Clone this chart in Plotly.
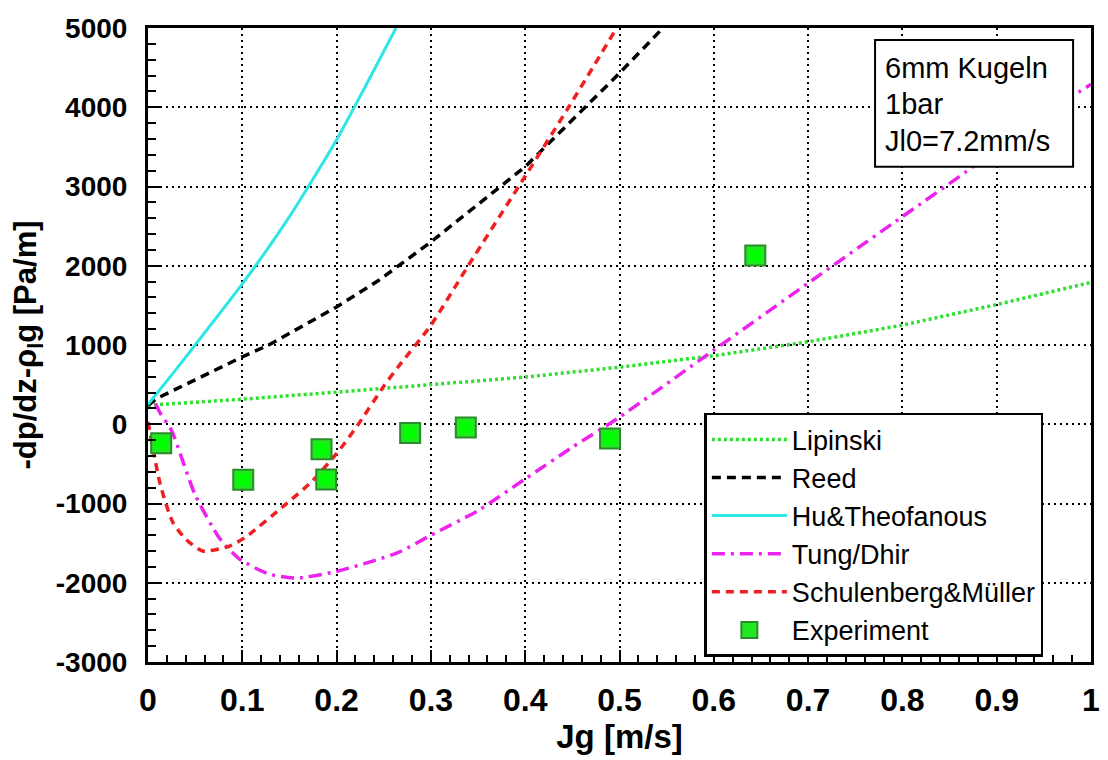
import plotly.graph_objects as go

# Model curves: superficial gas velocity Jg [m/s] vs. -dp/dz - rho_l*g [Pa/m]
lipinski_x = [0.0, 0.1, 0.2, 0.265, 0.3, 0.4, 0.5, 0.6, 0.7, 0.8, 0.9, 1.0]
lipinski_y = [240, 316, 405, 470, 495, 595, 720, 865, 1040, 1250, 1510, 1790]

reed_x = [0.0, 0.01, 0.05, 0.1, 0.128, 0.2, 0.244, 0.3, 0.4, 0.5, 0.546]
reed_y = [240, 330, 560, 850, 1000, 1480, 1810, 2300, 3250, 4430, 5000]

hu_x = [0.0, 0.025, 0.05, 0.1, 0.15, 0.2, 0.263]
hu_y = [250, 620, 1000, 1770, 2620, 3590, 5000]

tung_x = [0.008, 0.013, 0.025, 0.05, 0.076, 0.097, 0.128, 0.157, 0.199, 0.265,
          0.3, 0.35, 0.4, 0.45, 0.5, 0.6, 0.7, 0.8, 0.868, 0.93, 1.0]
tung_y = [260, 140, -80, -890, -1440, -1700, -1890, -1940, -1860, -1620,
          -1400, -1090, -690, -290, 90, 935, 1780, 2620, 3190, 3750, 4290]

schulenberg_x = [0.0, 0.013, 0.026, 0.04, 0.058, 0.086, 0.104, 0.146, 0.174, 0.202,
                 0.223, 0.25, 0.265, 0.3, 0.339, 0.4, 0.446, 0.497]
schulenberg_y = [30, -760, -1230, -1450, -1600, -1540, -1420, -1010, -720, -340,
                 0, 480, 720, 1250, 1990, 3130, 4000, 5000]

# Measured points
exp_x = [0.014, 0.101, 0.184, 0.189, 0.278, 0.337, 0.49, 0.644]
exp_y = [-240, -700, -316, -696, -110, -40, -180, 2130]

x_ticks = [0, 0.1, 0.2, 0.3, 0.4, 0.5, 0.6, 0.7, 0.8, 0.9, 1]
x_labels = ["0", "0.1", "0.2", "0.3", "0.4", "0.5", "0.6", "0.7", "0.8", "0.9", "1"]
y_ticks = [-3000, -2000, -1000, 0, 1000, 2000, 3000, 4000, 5000]
y_labels = ["-3000", "-2000", "-1000", "0", "1000", "2000", "3000", "4000", "5000"]

info_lines = ["6mm Kugeln", "1bar", "Jl0=7.2mm/s"]

SANS = "Liberation Sans, Arial, sans-serif"
NARROW = "Liberation Sans Narrow, Arial Narrow, Liberation Sans, Arial, sans-serif"

fig = go.Figure()

fig.add_trace(go.Scatter(x=lipinski_x, y=lipinski_y, mode="lines", name="Lipinski",
                         line=dict(color="#2ee02e", width=3.5, dash="3px,3px")))
fig.add_trace(go.Scatter(x=reed_x, y=reed_y, mode="lines", name="Reed",
                         line=dict(color="black", width=3.5, dash="9px,6px")))
fig.add_trace(go.Scatter(x=hu_x, y=hu_y, mode="lines", name="Hu&Theofanous",
                         line=dict(color="#2ee6e6", width=3, shape="spline",
                                   smoothing=0.6)))
fig.add_trace(go.Scatter(x=tung_x, y=tung_y, mode="lines", name="Tung/Dhir",
                         line=dict(color="#ee22ee", width=3.5, dash="13px,6px,3px,6px",
                                   shape="spline", smoothing=0.6)))
fig.add_trace(go.Scatter(x=schulenberg_x, y=schulenberg_y, mode="lines",
                         name="Schulenberg&Müller",
                         line=dict(color="#ee2020", width=3.5, dash="8px,6px",
                                   shape="spline", smoothing=0.6)))
fig.add_trace(go.Scatter(x=exp_x, y=exp_y, mode="markers", name="Experiment",
                         marker=dict(symbol="square", size=20, color="#22e822",
                                     line=dict(color="#2b8c2b", width=2))))
# brighter face on the squares for a raised look
fig.add_trace(go.Scatter(x=exp_x, y=exp_y, mode="markers", showlegend=False,
                         hoverinfo="skip",
                         marker=dict(symbol="square", size=12, color="#00ff00",
                                     line=dict(width=0))))

axis_common = dict(
    showline=True, linecolor="black", linewidth=3, mirror=True,
    showgrid=True, gridcolor="black", gridwidth=2, griddash="2px,4px",
    zeroline=False, ticks="inside", tickcolor="black", tickwidth=2,
)

fig.update_xaxes(
    range=[0, 1], tickvals=x_ticks, ticktext=x_labels, ticklen=12,
    tickfont=dict(family=NARROW, size=32, color="black", weight="bold"),
    ticklabelstandoff=8,
    minor=dict(ticks="inside", dtick=0.02, ticklen=7, tickwidth=1.5,
               tickcolor="black", showgrid=False),
    title=dict(text="Jg [m/s]", standoff=6,
               font=dict(family=NARROW, size=33, color="black", weight="bold")),
    **axis_common,
)
fig.update_yaxes(
    range=[-3000, 5000], tickvals=y_ticks, ticktext=y_labels, ticklen=14,
    tickfont=dict(family=SANS, size=28, color="black", weight="bold"),
    ticklabelstandoff=12,
    minor=dict(ticks="inside", dtick=200, ticklen=8, tickwidth=1.5,
               tickcolor="black", showgrid=False),
    title=dict(text="-dp/dz-ρ<sub>l</sub>g [Pa/m]", standoff=10,
               font=dict(family=SANS, size=31, color="black", weight="bold")),
    **axis_common,
)

# Info box in the upper right corner
fig.add_shape(type="rect", xref="paper", yref="paper",
              x0=0.771, x1=0.981, y0=0.781, y1=0.981,
              line=dict(color="black", width=2), fillcolor="white", layer="above")
for i, line in enumerate(info_lines):
    fig.add_annotation(xref="paper", yref="paper", x=0.779, y=0.937 - i * 0.0575,
                       xanchor="left", yanchor="middle", showarrow=False,
                       text=line, font=dict(family=SANS, size=29, color="black"))

fig.update_layout(
    width=1108, height=760,
    margin=dict(l=148, r=8, t=28, b=98),
    paper_bgcolor="white", plot_bgcolor="white",
    showlegend=True,
    legend=dict(x=0.59, y=0.393, xanchor="left", yanchor="top",
                bgcolor="white", bordercolor="black", borderwidth=2.5,
                font=dict(family=SANS, size=27, color="black"),
                itemwidth=75, tracegroupgap=0),
)

fig.write_html("out.html")
